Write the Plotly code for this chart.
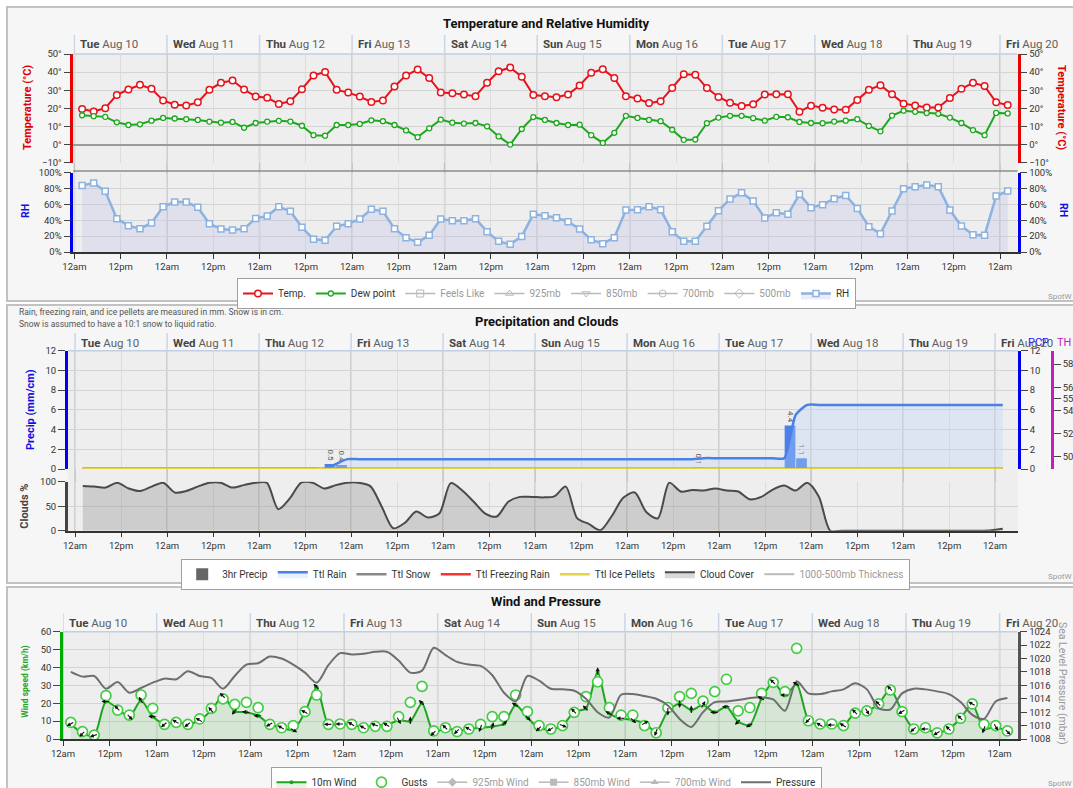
import math
import pandas as pd
import plotly.graph_objects as go

W, H = 1073, 788
FONT = "Roboto"

# ---------------- data ----------------
times = pd.date_range("2021-08-10 02:00", periods=81, freq="3h").strftime("%Y-%m-%d %H:%M").tolist()
days = pd.date_range("2021-08-10", periods=11, freq="D")
day_vals = days.strftime("%Y-%m-%d %H:%M").tolist()
day_names = [d.strftime("%a") for d in days]
day_dates = [d.strftime("%b %d") for d in days]
tick_times = pd.date_range("2021-08-10", periods=21, freq="12h")
tick_vals = tick_times.strftime("%Y-%m-%d %H:%M").tolist()
tick_text = ["12am" if t.hour == 0 else "12pm" for t in tick_times]

temp = [19.6, 18.3, 20.1, 27.4, 30.4, 33.0, 30.8, 24.4, 22.0, 21.6,
        23.3, 30.2, 34.1, 35.4, 30.4, 26.5, 25.9, 22.4, 23.9, 30.6,
        38.2, 40.1, 30.2, 28.7, 26.5, 23.5, 24.4, 32.1, 38.2, 41.4,
        36.8, 28.7, 28.4, 27.6, 26.7, 34.1, 40.5, 42.5, 37.5, 27.4,
        26.7, 26.1, 27.6, 32.6, 39.6, 41.6, 36.8, 26.7, 25.4, 22.9,
        23.9, 31.3, 38.8, 38.6, 31.2, 26.3, 23.1, 21.3, 22.2, 27.6,
        27.8, 27.8, 18.1, 21.5, 20.3, 19.4, 19.2, 24.6, 30.2, 32.8,
        27.8, 22.6, 21.6, 20.5, 20.5, 25.7, 30.8, 34.1, 32.3, 23.3,
        21.8]
dew = [16.2, 15.7, 15.3, 12.3, 10.8, 11.2, 13.2, 14.7, 14.4, 14.0,
       13.6, 12.7, 12.1, 12.5, 9.3, 11.9, 12.7, 13.1, 12.7, 10.4,
       5.2, 4.9, 10.8, 10.8, 11.4, 13.4, 12.9, 10.8, 7.8, 4.1,
       9.0, 13.8, 12.1, 11.6, 11.9, 10.1, 4.5, 0.0, 8.6, 15.2,
       13.6, 11.9, 10.8, 11.0, 5.2, 0.9, 6.5, 15.9, 14.7, 13.6,
       12.9, 8.2, 2.6, 2.8, 11.8, 14.9, 15.9, 15.9, 14.6, 13.2,
       15.3, 15.1, 12.5, 11.9, 11.8, 12.7, 13.2, 14.0, 10.3, 7.3,
       16.0, 18.7, 18.1, 17.4, 17.0, 14.9, 11.9, 8.0, 5.2, 17.5,
       17.2]
rh = [84, 87, 76.5, 42, 33.2, 29.4, 36.6, 57.1, 63, 63,
      56.3, 35.7, 29, 27.7, 29.4, 42.4, 45.4, 57.1, 51.3, 31.1,
      16, 14.7, 32.4, 35.7, 41.6, 53.8, 51.3, 29.4, 18.1, 12.2,
      21, 41.6, 39.5, 39.5, 42, 25.6, 13.4, 9.7, 19.7, 47.7,
      45.8, 43.3, 38.2, 29, 15.5, 10.5, 18.1, 52.9, 53.4, 57.1,
      53.4, 25.6, 13.4, 13.4, 32.4, 52.1, 66.8, 74.8, 64.3, 42.9,
      49.6, 47.5, 72.7, 55.9, 59.7, 67.2, 71.4, 55, 31.9, 23.1,
      51.7, 79.8, 82.4, 84.5, 82.4, 52.9, 32.8, 21.8, 21, 70.6,
      76.9]

cloud = [91, 90, 88, 98, 86, 81, 90, 98, 78, 81,
         90, 98, 98, 88, 93, 98, 98, 44, 66, 98,
         98, 86, 93, 98, 98, 91, 49, 5, 16, 39,
         27, 35, 97, 82, 59, 35, 29, 59, 69, 69,
         68, 70, 90, 25, 14, 1, 30, 67, 78, 38,
         25, 98, 80, 83, 82, 86, 82, 80, 64, 69,
         84, 92, 82, 98, 70, 0, 0, 0, 0, 0,
         0, 0, 0, 0, 0, 0, 0, 0, 0, 1,
         4]
rain_total = [0, 0, 0, 0, 0, 0, 0, 0, 0, 0,
              0, 0, 0, 0, 0, 0, 0, 0, 0, 0,
              0, 0, 0.5, 1.0, 1.0, 1.0, 1.0, 1.0, 1.0, 1.0,
              1.0, 1.0, 1.0, 1.0, 1.0, 1.0, 1.0, 1.0, 1.0, 1.0,
              1.0, 1.0, 1.0, 1.0, 1.0, 1.0, 1.0, 1.0, 1.0, 1.0,
              1.0, 1.0, 1.0, 1.0, 1.1, 1.1, 1.1, 1.1, 1.1, 1.1,
              1.1, 1.1, 5.5, 6.5, 6.5, 6.5, 6.5, 6.5, 6.5, 6.5,
              6.5, 6.5, 6.5, 6.5, 6.5, 6.5, 6.5, 6.5, 6.5, 6.5,
              6.5]
zero_total = [0, 0, 0, 0, 0, 0, 0, 0, 0, 0,
              0, 0, 0, 0, 0, 0, 0, 0, 0, 0,
              0, 0, 0, 0, 0, 0, 0, 0, 0, 0,
              0, 0, 0, 0, 0, 0, 0, 0, 0, 0,
              0, 0, 0, 0, 0, 0, 0, 0, 0, 0,
              0, 0, 0, 0, 0, 0, 0, 0, 0, 0,
              0, 0, 0, 0, 0, 0, 0, 0, 0, 0,
              0, 0, 0, 0, 0, 0, 0, 0, 0, 0,
              0]
snow_total = zero_total
frz_total = zero_total
ice_total = zero_total

bar_times = ["2021-08-12 18:30", "2021-08-12 21:30", "2021-08-16 18:30",
             "2021-08-17 18:30", "2021-08-17 21:30"]
bar_vals = [0.5, 0.4, 0.1, 4.4, 1.1]

wind10 = [8.5, 3, 2, 21, 17, 12.5, 21.5, 12.5, 8.2, 9.5,
          8.2, 10.5, 16, 24, 15.5, 15, 13, 8.2, 6.3, 5,
          15, 29, 8.2, 8.4, 8.2, 6.3, 7.8, 7.8, 10.5, 10,
          20, 3.5, 6.3, 4.5, 5.6, 6.3, 7, 8.5, 19, 12,
          6, 5.6, 7.5, 15.3, 17, 37.6, 14.3, 11.6, 10.6, 8.8,
          4.1, 15.7, 19.9, 16.2, 19, 14.9, 18, 9.7, 7.8, 22.7,
          31.7, 24.6, 30.6, 10.6, 7.8, 7.8, 7.5, 14.9, 15.7, 19.6,
          28, 15.3, 5.6, 5.6, 3.4, 5.6, 11.6, 19.6, 5.6, 6.9,
          4.1]
gusts = [9.3, 4.1, 2.2, 24.2, 16.2, 13.4, 24.6, 17.1, 8.2, 9.3,
         8.2, 11.2, 17.1, 22.4, 19.4, 20.5, 17.5, 8.2, 6.3, 7.5,
         15.3, 24.6, 8.2, 8.4, 8.2, 6.3, 7.1, 7.1, 12.5, 20.5,
         29.4, 4.5, 6.3, 4.1, 5.6, 8.2, 12.5, 12.5, 24.6, 15.3,
         7.5, 5.6, 7.5, 14.9, 23.7, 32.0, 17.5, 13.4, 13.4, 7.5,
         3.5, 17.5, 23.7, 25.5, 21.2, 26.5, 33.4, 15.7, 17.5, 25.5,
         31.7, 26.5, 50.7, 10.2, 8.4, 8.4, 7.5, 14.5, 15.7, 19.6,
         27.4, 15.3, 5.6, 6.3, 3.4, 5.6, 11.6, 19.6, 8.2, 7.5,
         4.5]
wind_dir = [240, 225, 250, 270, 315, 135, 330, 275, 230, 300,
            230, 300, 320, 315, 220, 280, 270, 240, 300, 120,
            300, 315, 270, 270, 300, 300, 290, 300, 150, 0,
            315, 225, 315, 225, 300, 200, 20, 45, 300, 135,
            225, 240, 110, 315, 315, 0, 300, 270, 135, 60,
            200, 180, 180, 0, 30, 270, 270, 225, 240, 300,
            315, 270, 300, 225, 300, 270, 300, 315, 150, 315,
            315, 240, 230, 270, 240, 315, 315, 300, 200, 150,
            135]
pressure = [1018.0, 1017.3, 1017.4, 1015.5, 1016.5, 1014.9, 1015.6, 1016.4, 1017.0, 1016.9,
            1018.1, 1017.4, 1017.1, 1015.5, 1017.4, 1019.1, 1019.3, 1020.3, 1020.0, 1019.1,
            1017.9, 1016.4, 1019.0, 1020.8, 1020.6, 1020.7, 1021.0, 1021.0, 1019.7, 1017.9,
            1018.2, 1021.6, 1020.5, 1019.5, 1019.1, 1018.9, 1017.5, 1014.9, 1013.6, 1017.4,
            1016.7, 1015.5, 1015.4, 1015.2, 1014.0, 1012.0, 1011.2, 1014.6, 1014.7, 1014.4,
            1014.0, 1013.0, 1011.0, 1009.8, 1012.0, 1013.5, 1013.6, 1013.8, 1014.1, 1014.2,
            1013.9, 1012.2, 1016.6, 1014.8, 1014.7, 1015.1, 1015.4, 1016.3, 1015.4, 1012.6,
            1012.4, 1014.8, 1015.5, 1015.4, 1015.1, 1014.7, 1013.5, 1011.6, 1011.0, 1013.6,
            1014.1]

th_ticks = [50, 52, 54, 55, 56, 58]

# ---------------- geometry helpers ----------------
def P(x):
    return x / W


def Q(y):
    return 1 - y / H


def dom(top, bottom):
    return [1 - bottom / H, 1 - top / H]


P1 = dict(left=73.3, right=1017.5, x0=74.4, day=92.56, head_top=35, head_lab=44.3,
          plot_top=54, plot_bottom=252)
P2 = dict(left=67.8, right=1018, x0=75.1, day=92.0, head_top=333, head_lab=342.7,
          plot_top=350.7, plot_bottom=530.7)
P3 = dict(left=63, right=1017.5, x0=63, day=93.66, head_top=613, head_lab=622.7,
          plot_top=631.7, plot_bottom=739)
BASE = pd.Timestamp("2021-08-10")


def xrange_for(p):
    a = BASE + pd.Timedelta(hours=(p["left"] - p["x0"]) / p["day"] * 24)
    b = BASE + pd.Timedelta(hours=(p["right"] - p["x0"]) / p["day"] * 24)
    return [a.round("s").strftime("%Y-%m-%d %H:%M:%S"), b.round("s").strftime("%Y-%m-%d %H:%M:%S")]


TICKFONT = dict(size=9.5, color="#333", family=FONT)


def xax(p, anchor):
    return dict(domain=[P(p["left"]), P(p["right"])], range=xrange_for(p), type="date",
                anchor=anchor, tickmode="array", tickvals=tick_vals, ticktext=tick_text,
                showgrid=True, gridcolor="#dcdcdc", gridwidth=1, showline=True,
                linecolor="#333", linewidth=1.5, ticks="outside", ticklen=5,
                tickcolor="#333", tickfont=TICKFONT, zeroline=False, fixedrange=True)


def yax(top, bottom, rng, color, dtick, anchor="x", grid=True, **kw):
    d = dict(domain=dom(top, bottom), range=rng, showline=True, linecolor=color,
             linewidth=2.5, ticks="outside", ticklen=7, tickcolor="#444",
             tickfont=TICKFONT, showgrid=grid, gridcolor="#d4d4d4", zeroline=False,
             anchor=anchor, dtick=dtick, fixedrange=True)
    d.update(kw)
    return d


fig = go.Figure()

# ---------------- panel 1 ----------------
fig.add_trace(go.Scatter(x=times, y=temp, name="Temp.", mode="lines+markers",
                         line=dict(color="#e8121a", width=2),
                         marker=dict(symbol="circle", size=6.5, color="white",
                                     line=dict(color="#e8121a", width=1.5)),
                         xaxis="x", yaxis="y", legend="legend", legendrank=1))
fig.add_trace(go.Scatter(x=times, y=dew, name="Dew point", mode="lines+markers",
                         line=dict(color="#1ea81e", width=2),
                         marker=dict(symbol="circle", size=5, color="white",
                                     line=dict(color="#1ea81e", width=1.3)),
                         xaxis="x", yaxis="y", legend="legend", legendrank=2))
for k, (nm, sym) in enumerate([("Feels Like", "square-open"), ("925mb", "triangle-up-open"),
                               ("850mb", "triangle-down-open"), ("700mb", "circle-open"),
                               ("500mb", "diamond-open")]):
    fig.add_trace(go.Scatter(x=[None], y=[None], name=nm, mode="lines+markers",
                             visible="legendonly", line=dict(color="#777", width=1.5),
                             marker=dict(symbol=sym, size=7, color="#777"),
                             xaxis="x", yaxis="y", legend="legend", legendrank=3 + k))
fig.add_trace(go.Scatter(x=times, y=rh, name="RH", mode="lines+markers",
                         line=dict(color="#8cb2e0", width=2.5),
                         marker=dict(symbol="square", size=6, color="white",
                                     line=dict(color="#8cb2e0", width=1.5)),
                         fill="tozeroy", fillcolor="rgba(190,190,235,0.28)",
                         xaxis="x", yaxis="y2", legend="legend", legendrank=9))

# ---------------- panel 2 ----------------
fig.add_trace(go.Bar(x=bar_times, y=bar_vals, width=2.8 * 3600 * 1000,
                     marker=dict(color="#4a80e8", line=dict(width=0)),
                     text=[f"{v:.1f}" for v in bar_vals], textposition="outside",
                     textangle=90, constraintext="none", cliponaxis=False,
                     textfont=dict(size=8, color="#555", family=FONT),
                     showlegend=False, xaxis="x2", yaxis="y5"))
fig.add_trace(go.Scatter(x=[None], y=[None], name="3hr Precip", mode="markers",
                         marker=dict(symbol="square", size=12, color="#666"),
                         xaxis="x2", yaxis="y5", legend="legend2", legendrank=1))
fig.add_trace(go.Scatter(x=times, y=rain_total, name="Ttl Rain", mode="lines",
                         line=dict(color="#4a80e8", width=2.5, shape="spline", smoothing=0.6),
                         fill="tozeroy", fillcolor="rgba(185,212,245,0.35)",
                         xaxis="x2", yaxis="y5", legend="legend2", legendrank=2))
fig.add_trace(go.Scatter(x=times, y=snow_total, name="Ttl Snow", mode="lines",
                         line=dict(color="#888", width=2.5),
                         xaxis="x2", yaxis="y5", legend="legend2", legendrank=3))
fig.add_trace(go.Scatter(x=times, y=frz_total, name="Ttl Freezing Rain", mode="lines",
                         line=dict(color="#ff3030", width=2.5),
                         xaxis="x2", yaxis="y5", legend="legend2", legendrank=4))
fig.add_trace(go.Scatter(x=times, y=ice_total, name="Ttl Ice Pellets", mode="lines",
                         line=dict(color="#e2d443", width=2.5),
                         xaxis="x2", yaxis="y5", legend="legend2", legendrank=5))
fig.add_trace(go.Scatter(x=times, y=cloud, name="Cloud Cover", mode="lines",
                         line=dict(color="#4a4a4a", width=2, shape="spline", smoothing=0.8),
                         fill="tozeroy", fillcolor="rgba(140,140,140,0.33)",
                         xaxis="x2", yaxis="y6", legend="legend2", legendrank=6))
fig.add_trace(go.Scatter(x=[None], y=[None], name="1000-500mb Thickness", mode="lines",
                         visible="legendonly", line=dict(color="#777", width=2),
                         xaxis="x2", yaxis="y8", legend="legend2", legendrank=7))

# ---------------- panel 3 ----------------
fig.add_trace(go.Scatter(x=times, y=wind10, name="10m Wind", mode="lines+markers",
                         line=dict(color="#1fa51f", width=2, shape="spline", smoothing=0.7),
                         marker=dict(symbol="circle", size=4, color="#1fa51f"),
                         fill="tozeroy", fillcolor="rgba(90,190,90,0.16)",
                         xaxis="x3", yaxis="y9", legend="legend3", legendrank=1))
fig.add_trace(go.Scatter(x=times, y=gusts, name="Gusts", mode="markers",
                         marker=dict(symbol="circle", size=10, color="white",
                                     line=dict(color="#44cc44", width=1.7)),
                         xaxis="x3", yaxis="y9", legend="legend3", legendrank=2))
for k, (nm, sym) in enumerate([("925mb Wind", "diamond"), ("850mb Wind", "square"),
                               ("700mb Wind", "triangle-up")]):
    fig.add_trace(go.Scatter(x=[None], y=[None], name=nm, mode="lines+markers",
                             visible="legendonly", line=dict(color="#777", width=1.5),
                             marker=dict(symbol=sym, size=7, color="#777"),
                             xaxis="x3", yaxis="y9", legend="legend3", legendrank=3 + k))
fig.add_trace(go.Scatter(x=times, y=pressure, name="Pressure", mode="lines",
                         line=dict(color="#6e6e6e", width=2, shape="spline", smoothing=0.8),
                         xaxis="x3", yaxis="y10", legend="legend3", legendrank=6))

# empty carriers so the mirrored right-hand axes get drawn
for ya in ("y3", "y4", "y7"):
    fig.add_trace(go.Scatter(x=[None], y=[None], mode="lines", showlegend=False,
                             hoverinfo="skip", xaxis="x2" if ya == "y7" else "x", yaxis=ya))

# ---------------- shapes ----------------
shapes = []
for top, bot in [(7, 301), (305, 583), (587, 800)]:
    shapes.append(dict(type="rect", xref="paper", yref="paper", x0=P(7), x1=P(1090),
                       y0=Q(bot), y1=Q(top), fillcolor="#f6f6f6",
                       line=dict(color="#c2c2c2", width=2), layer="below"))
for p in (P1, P2, P3):
    shapes.append(dict(type="rect", xref="paper", yref="paper", x0=P(p["left"]), x1=P(p["right"]),
                       y0=Q(p["plot_bottom"]), y1=Q(p["plot_top"]), fillcolor="#eeeeee",
                       line=dict(width=0), layer="below"))
for p, xr in [(P1, "x"), (P2, "x2"), (P3, "x3")]:
    for d in day_vals:
        shapes.append(dict(type="line", xref=xr, yref="paper", x0=d, x1=d,
                           y0=Q(p["plot_top"]), y1=Q(p["head_top"]),
                           line=dict(color="#c8d6e8", width=1.5), layer="between"))
        shapes.append(dict(type="line", xref=xr, yref="paper", x0=d, x1=d,
                           y0=Q(p["plot_bottom"]), y1=Q(p["plot_top"]),
                           line=dict(color="#c2c2c2", width=1.5), layer="between"))
    shapes.append(dict(type="line", xref="paper", yref="paper", x0=P(p["left"]), x1=P(p["right"]),
                       y0=Q(p["plot_top"]), y1=Q(p["plot_top"]),
                       line=dict(color="#c0cfe2", width=1.5), layer="between"))
shapes.append(dict(type="line", xref="paper", yref="paper", x0=P(P1["left"]), x1=P(P1["right"]),
                   y0=Q(171), y1=Q(171), line=dict(color="#8c8c8c", width=1.5), layer="between"))

# ---------------- annotations ----------------
annotations = []


def label(text, x, y, size=10, color="#333", angle=0, xanchor="center", yanchor="middle"):
    annotations.append(dict(text=text, x=P(x), y=Q(y), xref="paper", yref="paper",
                            showarrow=False, textangle=angle, xanchor=xanchor,
                            yanchor=yanchor, font=dict(size=size, color=color, family=FONT)))


label("<b>Temperature and Relative Humidity</b>", 546.5, 24, 13, "#111")
label("<b>Precipitation and Clouds</b>", 547, 321.7, 13, "#111")
label("<b>Wind and Pressure</b>", 546, 601.7, 13, "#111")
label("Rain, freezing rain, and ice pellets are measured in mm. Snow is in cm.", 17, 312.3,
      8.5, "#555", xanchor="left")
label("Snow is assumed to have a 10:1 snow to liquid ratio.", 17, 324.3, 8.5, "#555",
      xanchor="left")

label("<b>Temperature (°C)</b>", 28, 108, 11, "#e00000", -90)
label("<b>RH</b>", 25, 211, 10.5, "#1010e0", -90)
label("<b>Temperature (°C)</b>", 1062, 107, 11, "#e00000", 90)
label("<b>RH</b>", 1063, 210, 10.5, "#1010e0", 90)
label("<b>Precip (mm/cm)</b>", 31, 410, 11, "#1010e0", -90)
label("<b>Clouds %</b>", 25, 506.7, 11, "#444", -90)
label("PCP", 1038, 342.7, 11, "#2020ff")
label("TH", 1064, 342.7, 11, "#c020c0")
label("<b>Wind speed (km/h)</b>", 26, 681.7, 8.5, "#1fa51f", -90)
label("Sea Level Pressure (mbar)", 1063, 683, 10.5, "#999", 90)
for yy in (296.5, 576.5, 783):
    label("SpotW", 1046, yy, 8, "#999", xanchor="left")

for p, xr in [(P1, "x"), (P2, "x2"), (P3, "x3")]:
    for d, nm, dt in zip(day_vals, day_names, day_dates):
        annotations.append(dict(text=f"<b><span style='color:#454545'>{nm}</span></b> {dt}",
                                x=d, y=Q(p["head_lab"]), xref=xr, yref="paper", xanchor="left",
                                yanchor="middle", xshift=4, showarrow=False,
                                font=dict(size=11.5, color="#606060", family=FONT)))

# wind direction arrows (centred on each 10m wind point)
L = 9
for t, v, ang in zip(times, wind10, wind_dir):
    s, c = math.sin(math.radians(ang)), math.cos(math.radians(ang))
    annotations.append(dict(x=t, y=v, xref="x3", yref="y9", text="", showarrow=True,
                            arrowhead=2, arrowsize=0.7, arrowwidth=1.1, arrowcolor="#111",
                            ax=-L * s, ay=L * c, xshift=L / 2 * s, yshift=L / 2 * c,
                            standoff=0, startstandoff=0))

# ---------------- layout ----------------
legend_style = dict(orientation="h", xanchor="center", yanchor="top", bgcolor="white",
                    bordercolor="#a0a0a0", borderwidth=1, itemwidth=30,
                    font=dict(size=10, color="#333", family=FONT), tracegroupgap=0)

fig.update_layout(
    width=W, height=H, margin=dict(l=0, r=0, t=0, b=0, autoexpand=False),
    paper_bgcolor="white", plot_bgcolor="rgba(0,0,0,0)",
    font=dict(family=FONT, color="#333"), barmode="overlay", showlegend=True,
    xaxis=xax(P1, "y2"),
    yaxis=yax(54, 162.7, [-10, 50], "#ee0000", 10, ticksuffix="°",
              zeroline=True, zerolinecolor="#9a9a9a", zerolinewidth=1.5),
    yaxis2=yax(172.7, 252, [0, 100], "#0000ee", 20, ticksuffix="%"),
    yaxis3=yax(54, 162.7, [-10, 50], "#ee0000", 10, grid=False, ticksuffix="°",
               overlaying="y", side="right"),
    yaxis4=yax(172.7, 252, [0, 100], "#0000ee", 20, grid=False, ticksuffix="%",
               overlaying="y2", side="right"),
    xaxis2=xax(P2, "y6"),
    yaxis5=yax(350.7, 469, [0, 12], "#0000ee", 2, anchor="x2"),
    yaxis6=yax(481.7, 530.7, [0, 100], "#444", 50, anchor="x2"),
    yaxis7=yax(350.7, 469, [0, 12], "#0000ee", 2, anchor="x2", grid=False,
               overlaying="y5", side="right"),
    yaxis8=dict(overlaying="y5", side="right", anchor="free", position=P(1052),
                range=[48.94, 59.15], tickmode="array", tickvals=th_ticks,
                ticktext=[str(v) for v in th_ticks], showline=True, linecolor="#c020c0",
                linewidth=2.5, ticks="outside", ticklen=7, tickcolor="#444",
                tickfont=TICKFONT, showgrid=False, zeroline=False, fixedrange=True),
    xaxis3=xax(P3, "y9"),
    yaxis9=yax(631.7, 739, [0, 60], "#00aa00", 10, anchor="x3"),
    yaxis10=yax(631.7, 739, [1008, 1024], "#555", 2, anchor="x3", grid=False,
                overlaying="y9", side="right"),
    legend=dict(legend_style, x=P(546.5), y=Q(278)),
    legend2=dict(legend_style, x=P(545.7), y=Q(558.7)),
    legend3=dict(legend_style, x=P(546), y=Q(766.7)),
    shapes=shapes,
    annotations=annotations,
)

fig.write_html("out.html", config={"displayModeBar": False},
               post_script="document.body.style.margin='0';document.body.style.overflow='hidden';")
